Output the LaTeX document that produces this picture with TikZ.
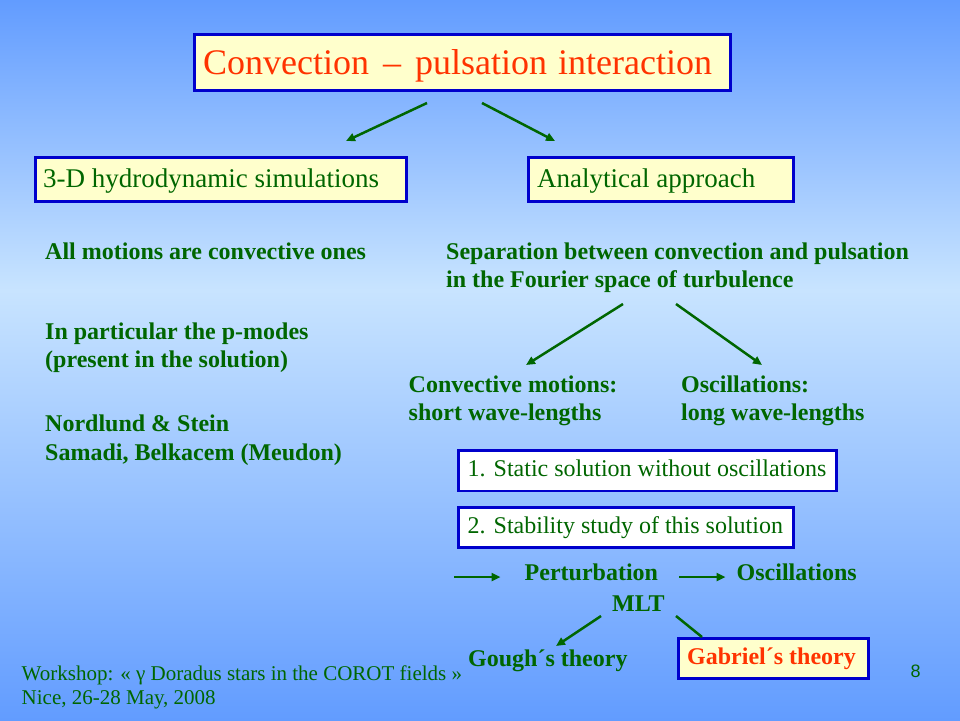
\documentclass[tikz,border=0pt]{standalone}
\usepackage{fontspec}
\setmainfont{Liberation Serif}
\newfontfamily\numfont{Liberation Sans}
\usetikzlibrary{arrows.meta}

\definecolor{slidegreen}{RGB}{0,102,0}
\definecolor{titlered}{RGB}{255,51,0}
\definecolor{boxblue}{RGB}{0,0,204}
\definecolor{boxyellow}{RGB}{255,255,204}
\definecolor{bgblue}{RGB}{98,156,255}
\definecolor{bglight}{RGB}{200,228,255}

\tikzset{
  frame/.style={draw=boxblue, line width=2.5pt, fill=boxyellow, inner sep=0pt, anchor=north west},
  wframe/.style={frame, fill=white},
  lbl/.style={anchor=base west, inner sep=0pt, text=slidegreen, font=\fontsize{24}{28}\selectfont},
  blbl/.style={lbl, font=\fontsize{24}{28}\selectfont\bfseries},
  arr/.style={draw=slidegreen, line width=2.5pt, -{Triangle[length=9pt,width=8pt]}},
}

\begin{document}
\begin{tikzpicture}[x=1pt,y=-1pt]
		\useasboundingbox (0,0) rectangle (960,720);
		\shade[top color=bgblue, bottom color=bglight] (0,0) rectangle (960,290);
		\shade[top color=bglight, bottom color=bgblue] (0,290) rectangle (960,720);
		% title
		\node[frame, minimum width=536pt, minimum height=56pt] (titlebox) at (193,33) {};
		\node[lbl, text=titlered, font=\fontsize{36}{40}\selectfont] (title) at (203,74.5) {Convection\hspace{14pt}–\hspace{14pt}pulsation\hspace{11pt}interaction};
		\coordinate (tl) at (427,103); \coordinate (tle) at (346,141);
		\coordinate (tr) at (482,103); \coordinate (tre) at (555,141);
		\draw[arr] (tl) -- (tle);
		\draw[arr] (tr) -- (tre);
		% two approaches
		\node[frame, minimum width=371pt, minimum height=44pt] (simbox) at (34,156) {};
		\node[lbl, font=\fontsize{27}{30}\selectfont] (sim) at (43,187) {3-D hydrodynamic simulations};
		\node[frame, minimum width=265pt, minimum height=44pt] (anabox) at (527,156) {};
		\node[lbl, font=\fontsize{27}{30}\selectfont] (ana) at (537,187) {Analytical approach};
		% left column
		\node[blbl] (all) at (45,259.5) {All motions are convective ones};
		\node[blbl] (pm1) at (45,339) {In particular the p-modes};
		\node[blbl] (pm2) at (45,367.5) {(present in the solution)};
		\node[blbl] (ns1) at (45,431.5) {Nordlund \& Stein};
		\node[blbl] (ns2) at (45,460) {Samadi, Belkacem (Meudon)};
		% right column
		\node[blbl] (sep1) at (446,259.5) {Separation between convection and pulsation};
		\node[blbl] (sep2) at (446,287.5) {in the Fourier space of turbulence};
		\coordinate (sl) at (623,304); \coordinate (sle) at (526,365);
		\coordinate (sr) at (676,304); \coordinate (sre) at (762,365);
		\draw[arr] (sl) -- (sle);
		\draw[arr] (sr) -- (sre);
		\node[blbl] (cm1) at (408.5,392.5) {Convective motions:};
		\node[blbl] (cm2) at (408.5,420.5) {short wave-lengths};
		\node[blbl] (os1) at (681,392.5) {Oscillations:};
		\node[blbl] (os2) at (681,420.5) {long wave-lengths};
		\node[wframe, minimum width=378pt, minimum height=40.5pt] (stepa) at (457,449) {};
		\node[lbl] (sta) at (467.5,476.5) {1. Static solution without oscillations};
		\node[wframe, minimum width=335pt, minimum height=40pt] (stepb) at (457,506) {};
		\node[lbl] (stb) at (467.5,533.5) {2. Stability study of this solution};
		% perturbation chain
		\node[blbl] (pert) at (524.5,580.5) {Perturbation};
		\node[blbl] (osc) at (736.5,580.5) {Oscillations};
		\coordinate (p0) at (454,577);
		\draw[arr] (p0) -- ([xshift=-24pt]pert.base west |- p0);
		\draw[arr] ([xshift=21pt]pert.base east |- p0) -- ([xshift=-11pt]osc.base west |- p0);
		\node[blbl] (mlt) at (612,611.5) {MLT};
		\node[blbl] (gough) at (468,666.5) {Gough´s theory};
		\coordinate (ml) at (601,616); \coordinate (mle) at (556,646);
		\draw[arr] (ml) -- (mle);
		\coordinate (mr) at (676,616);
		\node[frame, minimum width=190pt, minimum height=40pt] (gabbox) at (677,637) {};
		\draw[draw=slidegreen, line width=2.5pt] (mr) -- ([xshift=25pt]gabbox.north west);
		\node[blbl, text=titlered] (gab) at (687,664) {Gabriel´s theory};
		% footer
		\node[lbl, font=\fontsize{21}{24}\selectfont] (ws1) at (21.5,680) {Workshop: « γ Doradus stars in the COROT fields »};
		\node[lbl, font=\fontsize{21}{24}\selectfont] (ws2) at (21.5,704) {Nice, 26-28 May, 2008};
		\node[lbl, anchor=base, font=\numfont\fontsize{18}{20}\selectfont] (pg) at (915.5,677) {8};
\end{tikzpicture}
\end{document}
